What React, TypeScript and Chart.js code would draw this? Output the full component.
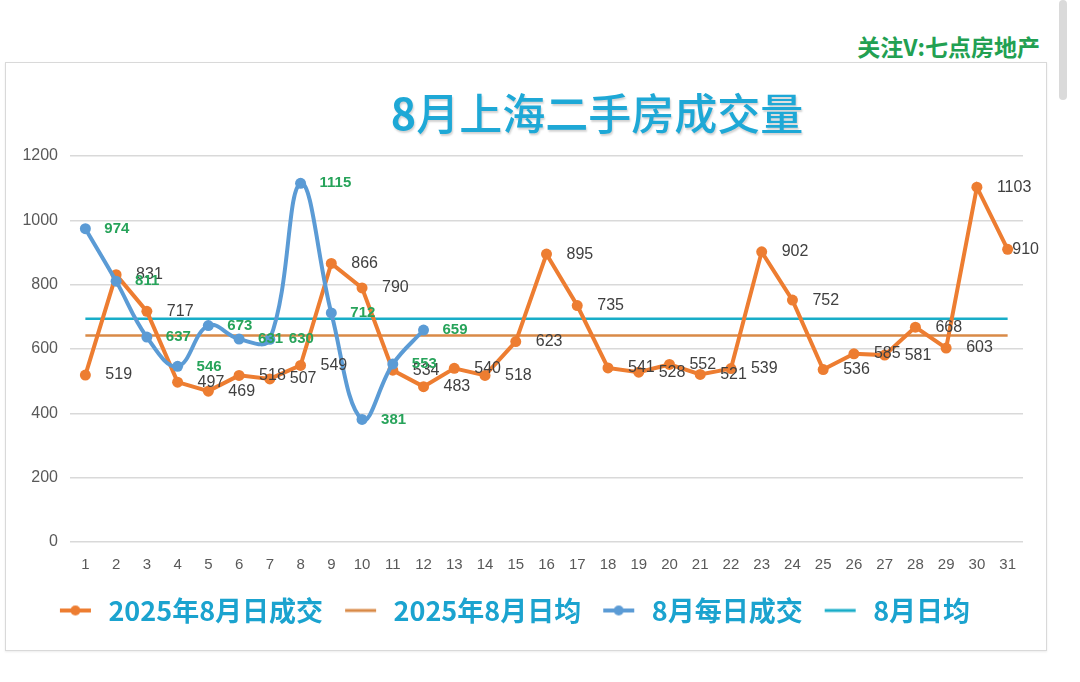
import React, { useEffect, useRef } from "react";
import { Chart, registerables } from "chart.js";

Chart.register(...registerables);

// ---- data ----
const days = [
  "1", "2", "3", "4", "5", "6", "7", "8", "9", "10", "11", "12", "13", "14", "15", "16",
  "17", "18", "19", "20", "21", "22", "23", "24", "25", "26", "27", "28", "29", "30", "31",
];
const sales2025 = [
  519, 831, 717, 497, 469, 518, 507, 549, 866, 790, 534, 483, 540, 518, 623, 895,
  735, 541, 528, 552, 521, 539, 902, 752, 536, 585, 581, 668, 603, 1103, 910,
];
const salesAug = [974, 811, 637, 546, 673, 631, 630, 1115, 712, 381, 553, 659];
const avg2025 = 642;
const avgAug = 694;
const yTicks = [0, 200, 400, 600, 800, 1000, 1200];
const seriesNames = ["2025年8月日成交", "2025年8月日均", "8月每日成交", "8月日均"];
const titleText = "8月上海二手房成交量";
const watermarkText = "关注V:七点房地产";

// ---- styles ----
const ORANGE = "#ED7D31";
const ORANGE_AVG = "#D98A47";
const BLUE = "#5B9BD5";
const CYAN = "#18ADC8";
const LEGEND_TEXT = "#1BA3CF";
const CJK = '"Noto Sans CJK SC", "Noto Sans", sans-serif';
const SANS = '"Liberation Sans", Arial, sans-serif';
const MARKER_W = 37;

function makeMarker(color: string, dot: boolean, lw: number): HTMLCanvasElement {
  const c = document.createElement("canvas");
  c.width = MARKER_W;
  c.height = 14;
  const g = c.getContext("2d")!;
  g.strokeStyle = color;
  g.lineWidth = lw;
  g.lineCap = "butt";
  g.beginPath();
  g.moveTo(2, 7);
  g.lineTo(MARKER_W - 4, 7);
  g.stroke();
  if (dot) {
    g.fillStyle = color;
    g.beginPath();
    g.arc((MARKER_W - 2) / 2, 7, 5, 0, Math.PI * 2);
    g.fill();
  }
  return c;
}

const labelPlugin = {
  id: "pointValueLabels",
  afterDatasetsDraw(chart: any, _args: any, opts: any) {
    const ctx = chart.ctx as CanvasRenderingContext2D;
    const styles = opts.styles || {};
    chart.data.datasets.forEach((ds: any, i: number) => {
      const st = styles[i];
      if (!st) return;
      const meta = chart.getDatasetMeta(i);
      ctx.save();
      ctx.font = st.font;
      ctx.fillStyle = st.color;
      ctx.textBaseline = "middle";
      ctx.textAlign = "left";
      meta.data.forEach((pt: any, j: number) => {
        const v = ds.data[j];
        if (v == null) return;
        const txt = String(v);
        const w = ctx.measureText(txt).width;
        let x = pt.x + st.dx;
        const maxX = chart.width - 8;
        if (x + w > maxX) x = maxX - w;
        ctx.fillText(txt, x, pt.y + (st.dy || 0));
      });
      ctx.restore();
    });
  },
};

export default function App() {
  const ref = useRef<HTMLCanvasElement | null>(null);

  useEffect(() => {
    if (!ref.current) return;
    const markers = [
      makeMarker(ORANGE, true, 4),
      makeMarker(ORANGE_AVG, false, 3),
      makeMarker(BLUE, true, 4),
      makeMarker(CYAN, false, 3),
    ];
    const chart = new Chart(ref.current, {
      type: "line",
      data: {
        labels: days,
        datasets: [
          {
            label: seriesNames[0],
            data: sales2025,
            borderColor: ORANGE,
            backgroundColor: ORANGE,
            borderWidth: 4,
            pointRadius: 5.5,
            pointBorderWidth: 0,
            tension: 0,
            order: 2,
          },
          {
            label: seriesNames[1],
            data: days.map(() => avg2025),
            borderColor: ORANGE_AVG,
            backgroundColor: ORANGE_AVG,
            borderWidth: 2.5,
            pointRadius: 0,
            tension: 0,
            order: 4,
          },
          {
            label: seriesNames[2],
            data: salesAug,
            borderColor: BLUE,
            backgroundColor: BLUE,
            borderWidth: 4,
            pointRadius: 5.5,
            pointBorderWidth: 0,
            tension: 0.4,
            order: 1,
          },
          {
            label: seriesNames[3],
            data: days.map(() => avgAug),
            borderColor: CYAN,
            backgroundColor: CYAN,
            borderWidth: 2.5,
            pointRadius: 0,
            tension: 0,
            order: 3,
          },
        ],
      },
      options: {
        responsive: false,
        animation: false,
        layout: { padding: { top: 94, right: 24, bottom: 17, left: 0 } },
        scales: {
          x: {
            offset: true,
            grid: { display: false, drawTicks: false },
            border: { display: false },
            ticks: {
              color: "#595959",
              font: { family: SANS, size: 15 },
              padding: 14,
              maxRotation: 0,
              autoSkip: false,
            },
            afterFit: (s: any) => {
              s.height = 35;
            },
          },
          y: {
            min: 0,
            max: 1200,
            afterBuildTicks: (s: any) => {
              s.ticks = yTicks.map((v) => ({ value: v }));
            },
            grid: { color: "#D9D9D9", lineWidth: 1.5, drawTicks: false },
            border: { display: false },
            ticks: {
              color: "#595959",
              font: { family: SANS, size: 16 },
              padding: 12,
              callback: (v: any) => String(v),
            },
            afterFit: (s: any) => {
              s.width = 65;
            },
          },
        },
        plugins: {
          title: { display: false },
          tooltip: { enabled: false },
          legend: {
            position: "bottom",
            labels: {
              usePointStyle: true,
              pointStyleWidth: MARKER_W,
              padding: 20,
              color: LEGEND_TEXT,
              font: { family: CJK, size: 27, weight: "bold" },
              generateLabels: () =>
                seriesNames.map((name, i) => ({
                  text: name,
                  pointStyle: markers[i],
                  fillStyle: "transparent",
                  strokeStyle: "transparent",
                  lineWidth: 0,
                  hidden: false,
                  datasetIndex: i,
                  fontColor: LEGEND_TEXT,
                })),
            },
          },
          pointValueLabels: {
            styles: {
              0: { font: `16px ${SANS}`, color: "#404040", dx: 20 },
              2: { font: `bold 15px ${SANS}`, color: "#27A35A", dx: 19 },
            },
          },
        } as any,
      },
      plugins: [labelPlugin],
    });
    return () => chart.destroy();
  }, []);

  return (
    <div
      style={{
        position: "absolute",
        left: 0,
        top: 0,
        width: 1080,
        height: 682,
        background: "#ffffff",
        overflow: "hidden",
      }}
    >
      <div
        style={{
          position: "absolute",
          right: 40,
          top: 31,
          fontFamily: CJK,
          fontWeight: 700,
          fontSize: 23,
          lineHeight: "30px",
          color: "#22A052",
          whiteSpace: "nowrap",
        }}
      >
        {watermarkText}
      </div>
      <div
        style={{
          position: "absolute",
          left: 1059,
          top: 0,
          width: 8,
          height: 100,
          borderRadius: 4,
          background: "#DADADA",
        }}
      />
      <div
        style={{
          position: "absolute",
          left: 5,
          top: 62,
          width: 1042,
          height: 589,
          boxSizing: "border-box",
          border: "1px solid #D9D9D9",
          boxShadow: "0 1px 2px rgba(0,0,0,0.08)",
          background: "#ffffff",
        }}
      />
      <canvas
        ref={ref}
        width={1042}
        height={589}
        style={{ position: "absolute", left: 5, top: 62, width: 1042, height: 589 }}
      />
      <div
        style={{
          position: "absolute",
          left: 597,
          top: 86,
          transform: "translateX(-50%)",
          fontFamily: CJK,
          fontWeight: 500,
          fontSize: 43,
          lineHeight: "50px",
          color: "#1EA8D6",
          textShadow: "1px 2px 2px rgba(0,0,0,0.18)",
          whiteSpace: "nowrap",
        }}
      >
        <span style={{ fontWeight: 700 }}>8</span>
        {titleText.slice(1)}
      </div>
    </div>
  );
}
